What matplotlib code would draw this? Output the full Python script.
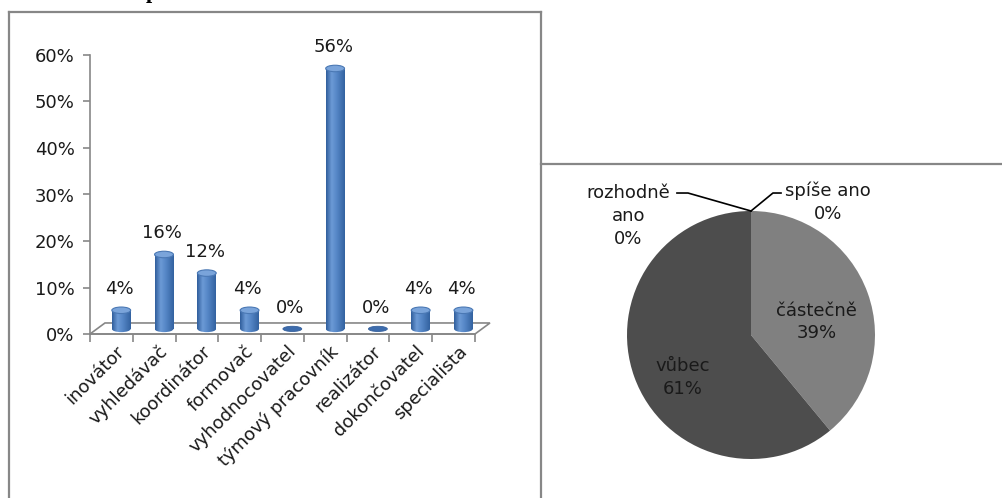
import numpy as np
import matplotlib.pyplot as plt
from matplotlib.patches import Ellipse, Rectangle, Polygon
from matplotlib.lines import Line2D

# team roles (Belbin) - share of respondents
roles = ['inovátor', 'vyhledávač', 'koordinátor', 'formovač', 'vyhodnocovatel',
         'týmový pracovník', 'realizátor', 'dokončovatel', 'specialista']
role_share = [4, 16, 12, 4, 0, 56, 0, 4, 4]
y_ticks = [0, 10, 20, 30, 40, 50, 60]

# answers for the pie
answers = ['rozhodně\nano', 'spíše ano', 'částečně', 'vůbec']
answer_share = [0, 0, 39, 61]
answer_colors = ['#a6a6a6', '#d9d9d9', '#808080', '#4d4d4d']

W, H = 1002, 498
GRAY = '#878787'
TXT = '#1a1a1a'
FS = 13


def px_box(x0, y0, x1, y1):
    return [x0 / W, 1 - y1 / H, (x1 - x0) / W, (y1 - y0) / H]


fig = plt.figure(figsize=(W / 100, H / 100), dpi=100)

# panel frames
frame = dict(color=GRAY, lw=1.6, transform=fig.transFigure)
fig.add_artist(Line2D([9 / W, 9 / W], [0, 1 - 12 / H], **frame))
fig.add_artist(Line2D([9 / W, 541 / W], [1 - 12 / H, 1 - 12 / H], **frame))
fig.add_artist(Line2D([541 / W, 541 / W], [0, 1 - 12 / H], **frame))
fig.add_artist(Line2D([541 / W, 1], [1 - 164 / H, 1 - 164 / H], **frame))
# heading above the panels (only its lowest part fits on the page)
fig.text(146 / W, 1 + 2 / H, 'p', family='Liberation Serif', weight='bold',
         fontsize=16, ha='left', va='baseline')

# ---- 3D-ish cylinder bars ----
ax = fig.add_axes(px_box(90, 55, 475, 334))
n = len(roles)
DX, DY = 0.35, 2.37          # floor depth
OFF_X, BASE = 0.23, 1.1      # bar position inside the floor
BW, EH = 0.44, 1.4           # bar width, ellipse height

floor = Polygon([(-0.5, 0), (n - 0.5, 0), (n - 0.5 + DX, DY), (-0.5 + DX, DY)],
                closed=True, fill=False, edgecolor=GRAY, lw=1.2, clip_on=False, zorder=1)
ax.add_patch(floor)

stops = np.array([0.0, 0.3, 0.55, 1.0])
cols = np.array([[0x30, 0x5e, 0x9c], [0x6c, 0x9a, 0xd6], [0x57, 0x88, 0xc8], [0x33, 0x62, 0xa0]]) / 255
t = np.linspace(0, 1, 64)
grad = np.stack([np.interp(t, stops, cols[:, k]) for k in range(3)], axis=-1)[None, :, :]

for i, v in enumerate(role_share):
    cx = i + OFF_X
    if v > 0:
        body = Rectangle((cx - BW / 2, BASE), BW, v, facecolor='none', edgecolor='none', zorder=3)
        bottom = Ellipse((cx, BASE), BW, EH, facecolor='none', edgecolor='none', zorder=3)
        ax.add_patch(body)
        ax.add_patch(bottom)
        for clip in (body, bottom):
            im = ax.imshow(grad, extent=[cx - BW / 2, cx + BW / 2, BASE - EH, BASE + v],
                           aspect='auto', origin='lower', zorder=3, interpolation='bilinear')
            im.set_clip_path(clip)
        ax.add_patch(Ellipse((cx, BASE + v), BW, EH, facecolor='#7aa4da',
                             edgecolor='#4a78b4', lw=0.8, zorder=4, clip_on=False))
    else:
        ax.add_patch(Ellipse((cx, BASE), BW, EH * 0.8, facecolor='#3d6cad',
                             edgecolor='#35609c', lw=0.6, zorder=4))
    ax.annotate(f'{v}%', (cx, BASE + v), xytext=(-2, 21), textcoords='offset pixels',
                ha='center', va='center', fontsize=FS, color=TXT, annotation_clip=False)

ax.set_xlim(-0.5, n - 0.5)
ax.set_ylim(0, 60)
ax.set_yticks(y_ticks)
ax.set_yticklabels([f'{v}%' for v in y_ticks])
ax.set_xticks(np.arange(-0.5, n, 1))
ax.set_xticklabels([])
ax.set_xticks(np.arange(n) + 0.1, minor=True)
ax.set_xticklabels(roles, minor=True, rotation=45, ha='right', va='top',
                   rotation_mode='anchor')
ax.tick_params(axis='x', which='major', length=6, color=GRAY, width=1.2)
ax.tick_params(axis='x', which='minor', length=0, pad=6, labelsize=FS, labelcolor=TXT)
ax.tick_params(axis='y', length=5, color=GRAY, width=1.2, labelsize=FS, labelcolor=TXT, pad=6)
for s in ('top', 'right'):
    ax.spines[s].set_visible(False)
for s in ('left', 'bottom'):
    ax.spines[s].set_color(GRAY)
    ax.spines[s].set_linewidth(1.2)
ax.patch.set_alpha(0)

# ---- pie ----
R = 124.0
pax = fig.add_axes(px_box(541, 170, 961, 495))
wedges, _ = pax.pie(answer_share, colors=answer_colors, startangle=90,
                    counterclock=False, radius=1, wedgeprops=dict(linewidth=0))
pax.set_aspect('auto')
pax.set_xlim(-210 / R, 210 / R)
pax.set_ylim(-160 / R, 165 / R)
pax.axis('off')

label_pos = [(-0.99, 0.96), (0.62, 1.07), (0.53, 0.105), (-0.55, -0.345)]
for name, v, (lx, ly) in zip(answers, answer_share, label_pos):
    pax.text(lx, ly, f'{name}\n{v}%', ha='center', va='center', fontsize=FS,
             color=TXT, linespacing=1.35)

# leader lines for the empty slices
pax.plot([-0.597, -0.508, 0], [1.145, 1.145, 1.0], color='black', lw=1.2, clip_on=False)
pax.plot([0.242, 0.177, 0], [1.145, 1.145, 1.0], color='black', lw=1.2, clip_on=False)

fig.savefig('out.png', dpi=100)
